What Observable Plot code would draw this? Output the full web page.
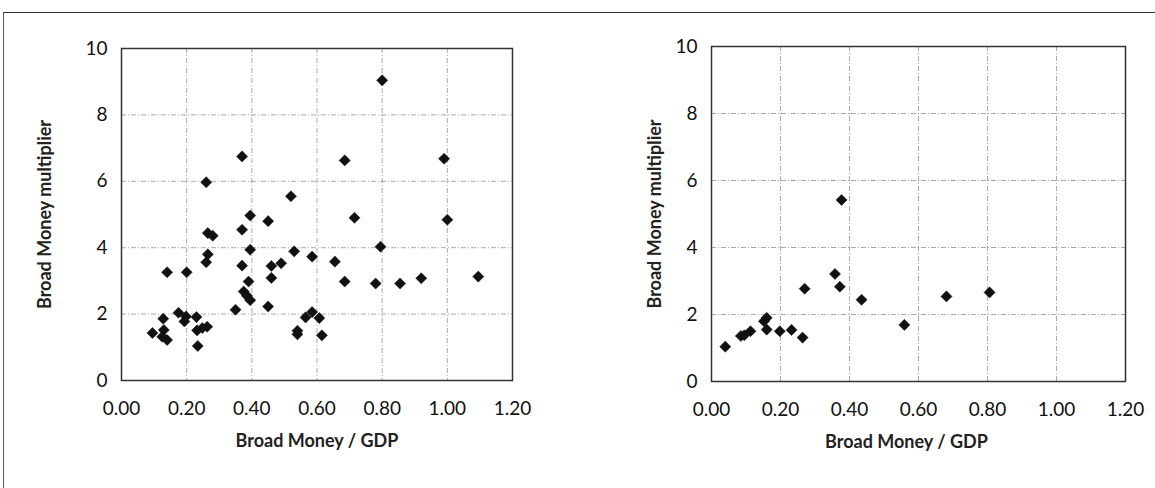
<!DOCTYPE html>
<html>
<head>
<meta charset="utf-8">
<script src="https://cdn.jsdelivr.net/npm/d3@7"></script>
<script src="https://cdn.jsdelivr.net/npm/@observablehq/plot@0.6"></script>
<style>
  html, body { margin: 0; padding: 0; background: #fff; }
  #wrap { position: relative; width: 1155px; height: 488px; overflow: hidden; background: #fff; }
  #wrap .panel { position: absolute; top: 0; }
  #borderTop { position: absolute; left: 3px; top: 12px; width: 1152px; height: 0; border-top: 1.5px solid #333; }
  #borderLeft { position: absolute; left: 3px; top: 12px; width: 0; height: 476px; border-left: 1.5px solid #555; }
</style>
</head>
<body>
<div id="wrap">
  <div id="borderTop"></div>
  <div id="borderLeft"></div>
  <div id="left" class="panel" style="left:0px"></div>
  <div id="right" class="panel" style="left:577px"></div>
</div>
<script>
// Left panel: Broad Money / GDP vs Broad Money multiplier
const leftX = [0.80, 0.37, 0.685, 0.99, 0.26, 0.52, 0.395, 0.45, 0.715, 1.00,
  0.37, 0.265, 0.28, 0.395, 0.265, 0.26, 0.14, 0.20, 0.37, 0.46,
  0.49, 0.46, 0.39, 0.53, 0.585, 0.655, 0.795, 0.685, 0.78, 0.855,
  0.92, 1.095, 0.375, 0.385, 0.395, 0.35, 0.45, 0.565, 0.585, 0.607,
  0.54, 0.54, 0.615, 0.175, 0.128, 0.198, 0.193, 0.23, 0.095, 0.13,
  0.125, 0.14, 0.232, 0.248, 0.263, 0.234];
const leftY = [9.04, 6.75, 6.63, 6.68, 5.97, 5.55, 4.97, 4.80, 4.90, 4.84,
  4.54, 4.44, 4.36, 3.94, 3.80, 3.56, 3.26, 3.26, 3.46, 3.45,
  3.53, 3.09, 2.98, 3.89, 3.73, 3.58, 4.03, 2.98, 2.92, 2.92,
  3.08, 3.13, 2.68, 2.55, 2.42, 2.13, 2.23, 1.90, 2.06, 1.88,
  1.50, 1.39, 1.36, 2.04, 1.86, 1.93, 1.78, 1.91, 1.43, 1.52,
  1.32, 1.22, 1.51, 1.58, 1.62, 1.04];

// Right panel
const rightX = [0.04, 0.085, 0.095, 0.113, 0.152, 0.16, 0.16, 0.198, 0.232, 0.264,
  0.27, 0.358, 0.372, 0.377, 0.435, 0.559, 0.681, 0.806];
const rightY = [1.04, 1.36, 1.38, 1.50, 1.80, 1.90, 1.55, 1.50, 1.54, 1.31,
  2.77, 3.21, 2.83, 5.42, 2.44, 1.69, 2.54, 2.66];

const xTicks = [0, 0.2, 0.4, 0.6, 0.8, 1.0, 1.2];
const yTicks = [0, 2, 4, 6, 8, 10];
const xGrid = [0.2, 0.4, 0.6, 0.8, 1.0];
const yGrid = [2, 4, 6, 8];
const xTitle = "Broad Money / GDP";
const yTitle = "Broad Money multiplier";

function panel(xs, ys, opts) {
  const data = xs.map((x, i) => ({x, y: ys[i]}));
  return Plot.plot({
    width: opts.width,
    height: 488,
    marginLeft: opts.ml,
    marginRight: opts.mr,
    marginTop: opts.mt,
    marginBottom: opts.mb,
    style: {fontFamily: "Lato, 'Open Sans', sans-serif", fontSize: "19px", color: "#111", background: "transparent"},
    x: {domain: [0, 1.2], label: null},
    y: {domain: [0, 10], label: null},
    marks: [
      Plot.gridX(xGrid, {stroke: "#666", strokeOpacity: 0.7, strokeDasharray: "5,2,1,2", strokeWidth: 0.8}),
      Plot.gridY(yGrid, {stroke: "#666", strokeOpacity: 0.7, strokeDasharray: "5,2,1,2", strokeWidth: 0.8}),
      Plot.frame({stroke: "#333", strokeWidth: 1.5}),
      Plot.axisX(xTicks, {tickSize: 0, tickPadding: 21, tickFormat: d => d.toFixed(2), label: null, fontSize: 19}),
      Plot.axisY(yTicks, {tickSize: 0, tickPadding: opts.yPad, tickFormat: d => String(d), label: null, fontSize: 19}),
      Plot.dot(data, {x: "x", y: "y", symbol: "diamond2", r: 5, fill: "#111", stroke: "#111", strokeWidth: 0.5}),
      Plot.text([xTitle], {text: d => d, frameAnchor: "bottom", dy: 66, dx: opts.xTitleDx, textAnchor: "middle", fontWeight: "bold", fontSize: 18, fill: "#222"}),
      Plot.text([yTitle], {text: d => d, frameAnchor: "left", dx: opts.yTitleDx, rotate: -90, textAnchor: "middle", fontWeight: "bold", fontSize: 18, fill: "#222"})
    ]
  });
}

document.getElementById("left").appendChild(
  panel(leftX, leftY, {width: 577, ml: 121, mr: 65, mt: 48, mb: 108, yPad: 14, yTitleDx: -76, xTitleDx: 0})
);
document.getElementById("right").appendChild(
  panel(rightX, rightY, {width: 578, ml: 134, mr: 30, mt: 46, mb: 107, yPad: 14, yTitleDx: -56, xTitleDx: -12})
);
</script>
</body>
</html>
